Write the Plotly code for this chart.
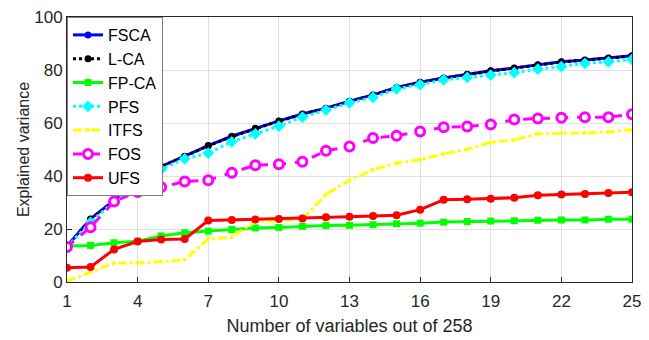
import plotly.graph_objects as go

x = list(range(1, 26))

fsca = [13.5, 23.8, 30.8, 37.4, 43.6, 47.5, 51.5, 55.0, 58.0, 60.8, 63.4, 65.6, 68.2, 70.6, 73.4,
        75.4, 77.0, 78.4, 79.7, 80.8, 82.0, 83.1, 83.8, 84.5, 85.4]
lca = [13.5, 23.7, 30.7, 37.2, 43.5, 47.4, 51.4, 54.9, 57.9, 60.7, 63.3, 65.5, 68.1, 70.5, 73.3,
       75.3, 76.9, 78.3, 79.6, 80.7, 81.9, 83.0, 83.7, 84.4, 85.3]
fpca = [13.6, 13.8, 14.8, 15.4, 17.4, 18.6, 19.2, 19.8, 20.4, 20.6, 21.0, 21.3, 21.4, 21.6, 22.0,
        22.2, 22.6, 22.8, 23.0, 23.1, 23.3, 23.4, 23.4, 23.7, 23.7]
pfs = [13.4, 22.5, 30.5, 37.0, 42.5, 46.5, 48.6, 52.9, 55.9, 58.8, 62.2, 64.9, 67.6, 69.7, 72.9,
       74.5, 76.3, 77.2, 78.1, 79.0, 80.3, 81.3, 82.5, 83.1, 84.0]
itfs = [0.3, 3.6, 7.2, 7.2, 7.6, 8.4, 16.2, 17.0, 22.8, 23.2, 23.7, 33.0, 38.4, 42.4, 44.8,
        46.2, 48.3, 50.1, 52.7, 53.6, 55.9, 56.2, 56.2, 56.7, 57.5]
fos = [13.2, 20.7, 30.4, 34.0, 35.8, 37.9, 38.4, 41.2, 44.1, 44.4, 45.4, 49.5, 51.1, 54.3, 55.2,
       56.8, 58.4, 58.7, 59.4, 61.3, 61.7, 62.0, 62.2, 62.2, 63.3]
ufs = [5.4, 5.7, 12.3, 15.3, 16.0, 16.2, 23.2, 23.4, 23.6, 23.8, 24.0, 24.4, 24.6, 24.9, 25.2,
       27.3, 31.0, 31.2, 31.4, 31.8, 32.7, 33.0, 33.2, 33.6, 33.9]

x_ticks = [1, 4, 7, 10, 13, 16, 19, 22, 25]
y_ticks = [0, 20, 40, 60, 80, 100]

FONT = "Liberation Sans"

fig = go.Figure()

def add(name, y, color, dash, symbol, size, width=3, mcolor=None, mline=0):
    fig.add_trace(go.Scatter(
        x=x, y=y, name=name, mode="lines+markers",
        line=dict(color=color, width=width, dash=dash),
        marker=dict(symbol=symbol, size=size, color=mcolor or color,
                    line=dict(color=color, width=mline)),
    ))

add("FSCA", fsca, "#0000ff", "solid", "circle", 7)
add("L-CA", lca, "#000000", "dot", "circle", 7)
add("FP-CA", fpca, "#00ff00", "solid", "square", 7)
add("PFS", pfs, "#00ffff", "dot", "diamond", 9)
add("ITFS", itfs, "#ffff00", "dashdot", "circle", 4)
add("FOS", fos, "#ff00ff", "dash", "circle", 9, mcolor="#ffffff", mline=3)
add("UFS", ufs, "#ff0000", "solid", "circle", 8)

fig.update_layout(
    width=649, height=340,
    margin=dict(l=67, r=12, t=8, b=55),
    paper_bgcolor="white", plot_bgcolor="white",
    font=dict(family=FONT, size=17, color="#262626"),
    showlegend=True,
    legend=dict(x=0.0, y=1.0, xanchor="left", yanchor="top",
                bgcolor="white", bordercolor="#7f7f7f", borderwidth=1,
                font=dict(family=FONT, size=16, color="#000000"),
                itemwidth=30, tracegroupgap=0),
    xaxis=dict(range=[1, 25], tickvals=x_ticks, ticks="inside", ticklen=5,
               tickcolor="#262626", showline=True, linecolor="#262626", linewidth=1,
               mirror=True, showgrid=True, gridcolor="#e0e0e0", zeroline=False,
               ticklabelstandoff=4, ticklabeloverflow="allow",
               title=dict(text="Number of variables out of 258", standoff=8,
                          font=dict(size=18)),
               tickfont=dict(size=17)),
    yaxis=dict(range=[0, 100], tickvals=y_ticks, ticks="inside", ticklen=5,
               tickcolor="#262626", showline=True, linecolor="#262626", linewidth=1,
               mirror=True, showgrid=True, gridcolor="#e0e0e0", zeroline=False,
               ticklabeloverflow="allow",
               title=dict(text="Explained variance", standoff=0,
                          font=dict(size=16)),
               tickfont=dict(size=17)),
)

fig.write_html("out.html")
